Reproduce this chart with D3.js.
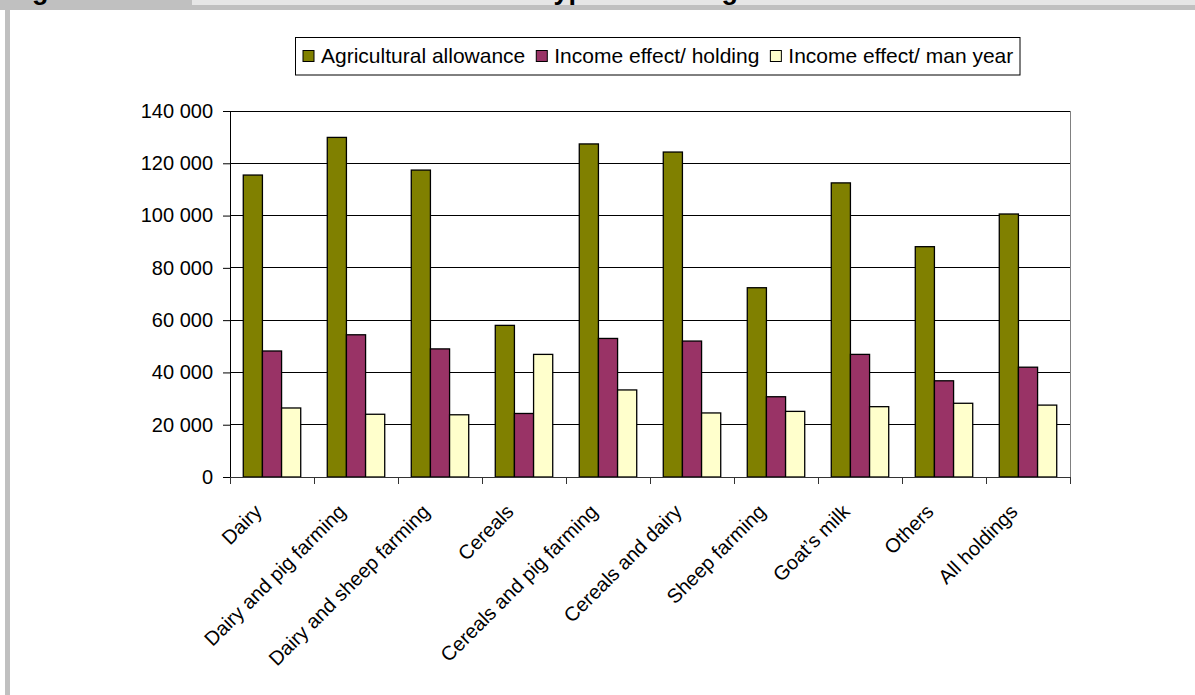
<!DOCTYPE html>
<html><head><meta charset="utf-8">
<script src="https://cdn.jsdelivr.net/npm/d3@7"></script>
<style>
body{margin:0;background:#fff}
svg{display:block}
text{font-family:"Liberation Sans",Arial,sans-serif;fill:#000}
</style>
</head><body>
<svg id="chart" width="1195" height="695"></svg>
<script>
const categories = ["Dairy","Dairy and pig farming","Dairy and sheep farming","Cereals","Cereals and pig farming","Cereals and dairy","Sheep farming","Goat\u2019s milk","Others","All holdings"];
const seriesNames = ["Agricultural allowance","Income effect/ holding","Income effect/ man year"];
const agriculturalAllowance = [115500,129900,117400,58000,127400,124300,72400,112500,88100,100600];
const incomeEffectPerHolding = [48200,54400,49000,24300,53000,52000,30700,46900,36800,42000];
const incomeEffectPerManYear = [26400,24000,23800,46900,33300,24500,25100,26900,28200,27500];
const yTickValues = [0,20000,40000,60000,80000,100000,120000,140000];
const yTickLabels = ["0","20 000","40 000","60 000","80 000","100 000","120 000","140 000"];
const seriesColors = ["#808000","#993366","#FFFFCC"];

const seriesValues = [agriculturalAllowance, incomeEffectPerHolding, incomeEffectPerManYear];
const svg = d3.select("#chart");

// frame / header bands (the figure's title row is cut off at the top edge, as in the source)
svg.append("rect").attr("x",0).attr("y",0).attr("width",1195).attr("height",10).attr("fill","#c0c0c0");
svg.append("rect").attr("x",192).attr("y",0).attr("width",1003).attr("height",5).attr("fill","#e6e6e6");
svg.append("rect").attr("x",5).attr("y",10).attr("width",5).attr("height",685).attr("fill","#c0c0c0");
svg.append("text").attr("x",8).attr("y",-1).attr("font-weight","bold").attr("font-size",27).text("Figure 5");
svg.append("text").attr("x",738).attr("y",-1).attr("text-anchor","end").attr("font-weight","bold").attr("font-size",27)
  .text("Income effect in each type of holding");

const pLeft = 230, pRight = 1070, pTop = 111, pBottom = 477;
const x = d3.scaleBand().domain(categories).range([pLeft,pRight]).padding(0);
const bw = x.bandwidth();
const x1 = d3.scaleBand().domain(seriesNames).range([bw*0.158, bw*(1-0.158)]).padding(0);
const y = d3.scaleLinear().domain([0,140000]).range([pBottom,pTop]);

// gridlines
svg.append("g").selectAll("line").data(yTickValues.filter(v=>v>0)).join("line")
  .attr("x1",pLeft).attr("x2",pRight).attr("y1",d=>y(d)).attr("y2",d=>y(d))
  .attr("stroke","#000").attr("stroke-width",1).attr("shape-rendering","crispEdges");
// right border
svg.append("line").attr("x1",pRight).attr("x2",pRight).attr("y1",pTop).attr("y2",pBottom)
  .attr("stroke","#808080").attr("stroke-width",1).attr("shape-rendering","crispEdges");

// bars
const g = svg.append("g");
seriesNames.forEach((s,si)=>{
  g.append("g").selectAll("rect").data(categories).join("rect")
    .attr("x",c=>x(c)+x1(s))
    .attr("y",(c,i)=>y(seriesValues[si][i]))
    .attr("width",x1.bandwidth())
    .attr("height",(c,i)=>pBottom-y(seriesValues[si][i]))
    .attr("fill",seriesColors[si]).attr("stroke","#000").attr("stroke-width",1.3);
});

// y axis
const yAxis = d3.axisLeft(y).tickValues(yTickValues).tickFormat((d,i)=>yTickLabels[i])
  .tickSize(7).tickSizeOuter(0).tickPadding(10);
const ya = svg.append("g").attr("transform",`translate(${pLeft},0)`).call(yAxis);
ya.selectAll("text").attr("font-size",20).style("font-family",'"Liberation Sans",Arial,sans-serif');
ya.selectAll("line,path").attr("stroke","#000");

// x axis
const xAxis = d3.axisBottom(x).tickSize(0).tickSizeOuter(0).tickFormat("");
const xa = svg.append("g").attr("transform",`translate(0,${pBottom})`).call(xAxis);
xa.select("path").attr("stroke","#333");
svg.append("g").selectAll("line").data(categories.map(c=>x(c)).concat([pRight])).join("line")
  .attr("x1",d=>d).attr("x2",d=>d).attr("y1",pBottom).attr("y2",pBottom+7)
  .attr("stroke","#333").attr("stroke-width",1).attr("shape-rendering","crispEdges");
svg.append("g").selectAll("text").data(categories).join("text")
  .attr("transform",c=>`translate(${x(c)+bw/2-14},${pBottom+31}) rotate(-45)`)
  .attr("text-anchor","end").attr("dy","0.35em").attr("font-size",20).text(c=>c);

// legend
const lg = svg.append("g");
lg.append("rect").attr("x",295.5).attr("y",37.5).attr("width",724.5).attr("height",37.5)
  .attr("fill","#fff").attr("stroke","#000").attr("stroke-width",1);
let tx = 321;
seriesNames.forEach((s,i)=>{
  lg.append("rect").attr("x",tx-18).attr("y",50.5).attr("width",11).attr("height",11)
    .attr("fill",seriesColors[i]).attr("stroke","#000").attr("stroke-width",1);
  const t = lg.append("text").attr("x",tx).attr("y",56).attr("dy","0.35em").attr("font-size",21).text(s);
  tx += t.node().getComputedTextLength() + 29;
});
</script>
</body></html>
